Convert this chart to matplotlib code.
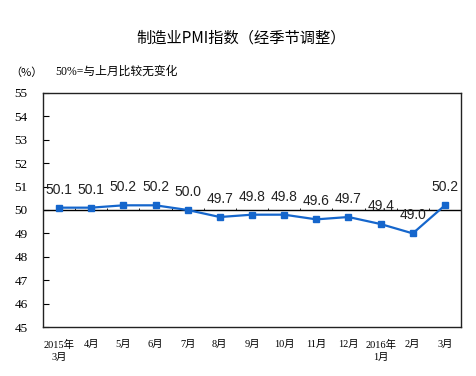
import matplotlib
matplotlib.use("Agg")
import matplotlib.pyplot as plt
import numpy as np

# monthly PMI, 2015-03 .. 2016-03
months = ["2015年\n3月", "4月", "5月", "6月", "7月", "8月", "9月", "10月",
          "11月", "12月", "2016年\n1月", "2月", "3月"]
pmi = [50.1, 50.1, 50.2, 50.2, 50.0, 49.7, 49.8, 49.8, 49.6, 49.7, 49.4, 49.0, 50.2]
yticks = [45, 46, 47, 48, 49, 50, 51, 52, 53, 54, 55]

cjk = ["Noto Sans CJK SC", "DejaVu Sans"]
serif_cjk = ["Liberation Serif", "Noto Sans CJK SC"]
sans = ["Liberation Sans", "DejaVu Sans"]

fig = plt.figure(figsize=(4.77, 3.76), dpi=100)
ax = fig.add_axes([43 / 477, 1 - 327 / 376, 418 / 477, 234 / 376])

x = np.arange(len(pmi))
ax.plot(x, pmi, color="#1566cc", lw=1.6, marker="s", ms=4, zorder=3)
for xi, v in zip(x, pmi):
    ax.annotate(f"{v:.1f}", (xi, v), xytext=(0, 13), textcoords="offset points",
                ha="center", va="center", fontsize=10, family=sans, color="#222222")

ax.set_xlim(-0.5, len(pmi) - 0.5)
ax.set_ylim(45, 55)
ax.set_yticks(yticks)
ax.set_yticklabels([str(t) for t in yticks], family=serif_cjk, fontsize=9.5)
ax.tick_params(axis="y", direction="in", length=4, width=0.8, pad=11)

ax.set_xticks(x)
ax.set_xticklabels(months, family=serif_cjk, fontsize=7.5, linespacing=1.45, va="top")
ax.tick_params(axis="x", length=0, pad=9)

# 50 line with small category ticks
ax.axhline(50, color="black", lw=1, zorder=2)
ax.vlines(np.arange(0.5, len(pmi) - 0.5), 50, 50.07, color="black", lw=0.6)

for s in ax.spines.values():
    s.set_linewidth(1)
    s.set_color("#222222")

fig.text(0.506, 1 - 38 / 376, "制造业PMI指数（经季节调整）", ha="center", va="center",
         fontsize=11, family=cjk, weight="medium")
fig.text(10 / 477, 1 - 73 / 376, "（%）", ha="left", va="center", fontsize=8, family=cjk)
fig.text(55 / 477, 1 - 72 / 376, "50%=与上月比较无变化", ha="left", va="center",
         fontsize=8.5, family=serif_cjk)

fig.savefig("out.png", dpi=100)
